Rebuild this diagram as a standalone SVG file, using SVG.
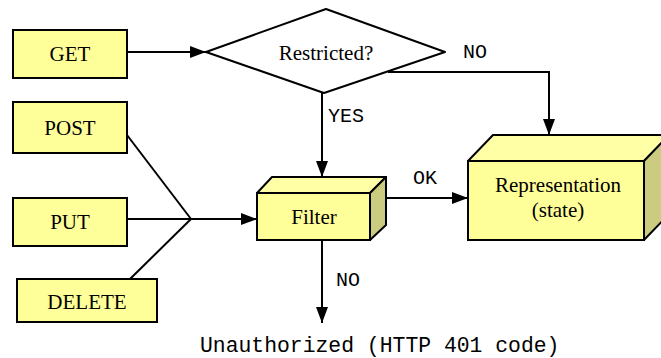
<svg xmlns="http://www.w3.org/2000/svg" width="661" height="358" viewBox="0 0 661 358">
<style>
.box{fill:#FFFF99;stroke:#000;stroke-width:2}
.top{fill:#FFFFA6;stroke:#000;stroke-width:2;stroke-linejoin:round}
.side{fill:#CCCC80;stroke:#000;stroke-width:2;stroke-linejoin:round}
.t{font-family:"Liberation Serif",serif;font-size:21px;fill:#000;text-anchor:middle}
.m{font-family:"Liberation Mono",monospace;font-size:20px;fill:#000}
.ln{fill:none;stroke:#000;stroke-width:2}
</style>
<defs>
<marker id="ah" markerWidth="16" markerHeight="12" refX="16" refY="6" orient="auto" markerUnits="userSpaceOnUse">
<path d="M0,0 L16,6 L0,12 Z" fill="#000"/>
</marker>
</defs>
<rect width="661" height="358" fill="#fff"/>
<g id="connectors">
<line class="ln" x1="127" y1="52" x2="206" y2="52" marker-end="url(#ah)"/>
<polyline class="ln" points="388,72 549,72 549,135" marker-end="url(#ah)"/>
<line class="ln" x1="322" y1="92" x2="322" y2="177" marker-end="url(#ah)"/>
<line class="ln" x1="127" y1="135" x2="191" y2="219"/>
<line class="ln" x1="130" y1="279" x2="191" y2="219"/>
<line class="ln" x1="127" y1="219" x2="257" y2="219" marker-end="url(#ah)"/>
<line class="ln" x1="386" y1="198" x2="468" y2="198" marker-end="url(#ah)"/>
<line class="ln" x1="322" y1="240" x2="322" y2="323" marker-end="url(#ah)"/>
<text class="m" x="463" y="58">NO</text>
<text class="m" x="328" y="122">YES</text>
<text class="m" x="413" y="184">OK</text>
<text class="m" x="336" y="286">NO</text>
<text class="m" x="200" y="352" style="font-size:21.4px">Unauthorized (HTTP 401 code)</text>
</g>
<g id="get">
<rect class="box" x="13" y="30" width="114" height="48"/>
<text class="t" x="70" y="61">GET</text>
</g>
<g id="post">
<rect class="box" x="13" y="102" width="114" height="51"/>
<text class="t" x="70" y="135">POST</text>
</g>
<g id="put">
<rect class="box" x="13" y="198" width="114" height="48"/>
<text class="t" x="70" y="229">PUT</text>
</g>
<g id="delete">
<rect class="box" x="17" y="279" width="140" height="43"/>
<text class="t" x="87" y="309">DELETE</text>
</g>
<g id="restricted">
<polygon points="206,52 326,9 445,52 324,93" fill="#fff" stroke="#000" stroke-width="2" stroke-linejoin="round"/>
<text class="t" x="326" y="60">Restricted?</text>
</g>
<g id="filter">
<polygon class="top" points="257,193 272,177 386,177 370,193"/>
<polygon class="side" points="370,193 386,177 386,225 370,240"/>
<rect class="box" x="257" y="193" width="113" height="47"/>
<text class="t" x="314" y="224">Filter</text>
</g>
<g id="representation">
<polygon class="top" points="468,161 493,135 669,135 644,161"/>
<polygon class="side" points="644,161 669,135 669,214 644,240"/>
<rect class="box" x="468" y="161" width="176" height="79"/>
<text class="t" x="558" y="192">Representation</text>
<text class="t" x="558" y="217">(state)</text>
</g>
</svg>
